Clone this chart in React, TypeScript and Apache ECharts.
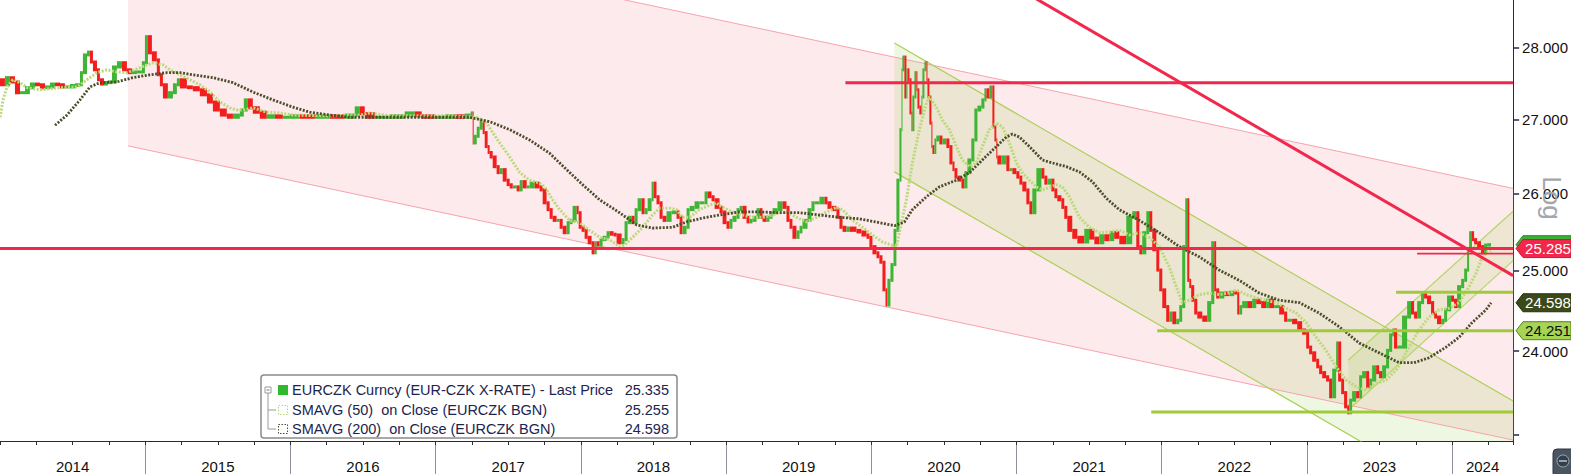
import React, { useEffect, useRef } from 'react';
import * as echarts from 'echarts';

// ---------- price data (fractional year, close) ----------
const priceT = [
  2014.000, 2014.034, 2014.069, 2014.103, 2014.138, 2014.172, 2014.206, 2014.241, 2014.275, 2014.310,
  2014.344, 2014.379, 2014.413, 2014.447, 2014.482, 2014.516, 2014.551, 2014.571, 2014.599, 2014.619,
  2014.640, 2014.668, 2014.688, 2014.716, 2014.743, 2014.771, 2014.805, 2014.840, 2014.874, 2014.908,
  2014.943, 2014.977, 2014.998, 2015.019, 2015.046, 2015.080, 2015.101, 2015.122, 2015.156, 2015.191,
  2015.218, 2015.239, 2015.287, 2015.328, 2015.376, 2015.425, 2015.466, 2015.514, 2015.562, 2015.604,
  2015.652, 2015.679, 2015.707, 2015.741, 2015.789, 2015.837, 2015.893, 2015.948, 2015.996, 2016.065,
  2016.168, 2016.271, 2016.374, 2016.443, 2016.478, 2016.512, 2016.581, 2016.684, 2016.787, 2016.856,
  2016.904, 2016.994, 2017.063, 2017.131, 2017.200, 2017.241, 2017.255, 2017.262, 2017.283, 2017.303,
  2017.324, 2017.338, 2017.358, 2017.372, 2017.393, 2017.420, 2017.441, 2017.462, 2017.489, 2017.510,
  2017.531, 2017.558, 2017.579, 2017.599, 2017.627, 2017.647, 2017.682, 2017.716, 2017.737, 2017.764,
  2017.785, 2017.806, 2017.833, 2017.854, 2017.875, 2017.902, 2017.923, 2017.943, 2017.971, 2017.985,
  2018.005, 2018.026, 2018.047, 2018.074, 2018.095, 2018.109, 2018.129, 2018.150, 2018.177, 2018.198,
  2018.226, 2018.246, 2018.281, 2018.301, 2018.322, 2018.349, 2018.370, 2018.391, 2018.418, 2018.439,
  2018.460, 2018.487, 2018.501, 2018.521, 2018.542, 2018.563, 2018.590, 2018.625, 2018.659, 2018.680,
  2018.700, 2018.728, 2018.749, 2018.783, 2018.817, 2018.852, 2018.872, 2018.900, 2018.921, 2018.955,
  2018.976, 2019.003, 2019.024, 2019.044, 2019.072, 2019.093, 2019.113, 2019.141, 2019.162, 2019.182,
  2019.210, 2019.230, 2019.251, 2019.279, 2019.299, 2019.320, 2019.354, 2019.389, 2019.416, 2019.437,
  2019.457, 2019.485, 2019.506, 2019.526, 2019.561, 2019.588, 2019.609, 2019.643, 2019.678, 2019.698,
  2019.726, 2019.760, 2019.781, 2019.802, 2019.829, 2019.850, 2019.898, 2019.932, 2019.967, 2019.987,
  2020.008, 2020.036, 2020.056, 2020.077, 2020.098, 2020.111, 2020.132, 2020.153, 2020.173, 2020.194,
  2020.208, 2020.214, 2020.228, 2020.242, 2020.249, 2020.263, 2020.277, 2020.283, 2020.297, 2020.311,
  2020.318, 2020.331, 2020.345, 2020.352, 2020.366, 2020.380, 2020.387, 2020.400, 2020.414, 2020.421,
  2020.435, 2020.448, 2020.469, 2020.490, 2020.517, 2020.538, 2020.559, 2020.573, 2020.593, 2020.621,
  2020.641, 2020.662, 2020.689, 2020.710, 2020.731, 2020.758, 2020.779, 2020.793, 2020.813, 2020.834,
  2020.848, 2020.861, 2020.868, 2020.896, 2020.930, 2020.951, 2020.972, 2020.999, 2021.020, 2021.040,
  2021.068, 2021.089, 2021.109, 2021.137, 2021.171, 2021.192, 2021.212, 2021.240, 2021.261, 2021.281,
  2021.309, 2021.329, 2021.350, 2021.384, 2021.419, 2021.467, 2021.501, 2021.536, 2021.570, 2021.605,
  2021.639, 2021.673, 2021.708, 2021.756, 2021.797, 2021.825, 2021.846, 2021.866, 2021.894, 2021.914,
  2021.935, 2021.963, 2021.983, 2022.004, 2022.031, 2022.052, 2022.073, 2022.100, 2022.121, 2022.141,
  2022.162, 2022.176, 2022.190, 2022.203, 2022.224, 2022.245, 2022.279, 2022.313, 2022.341, 2022.362,
  2022.375, 2022.396, 2022.431, 2022.465, 2022.499, 2022.520, 2022.534, 2022.554, 2022.589, 2022.623,
  2022.651, 2022.685, 2022.719, 2022.740, 2022.774, 2022.809, 2022.843, 2022.864, 2022.898, 2022.933,
  2022.967, 2022.995, 2023.015, 2023.036, 2023.064, 2023.084, 2023.105, 2023.132, 2023.153, 2023.174,
  2023.201, 2023.215, 2023.236, 2023.256, 2023.277, 2023.291, 2023.311, 2023.339, 2023.360, 2023.380,
  2023.408, 2023.428, 2023.449, 2023.477, 2023.497, 2023.518, 2023.545, 2023.566, 2023.587, 2023.600,
  2023.621, 2023.655, 2023.690, 2023.717, 2023.738, 2023.759, 2023.786, 2023.807, 2023.827, 2023.855,
  2023.876, 2023.896, 2023.924, 2023.945, 2023.965, 2023.993, 2024.013, 2024.034, 2024.062, 2024.083,
  2024.103, 2024.117, 2024.137, 2024.151, 2024.172, 2024.199, 2024.220, 2024.241, 2024.268,
];
const priceClose = [
  27.55, 27.48, 27.58, 27.52, 27.37, 27.37, 27.44, 27.49, 27.48, 27.44,
  27.45, 27.49, 27.48, 27.45, 27.45, 27.47, 27.48, 27.65, 27.90, 27.94,
  27.80, 27.69, 27.55, 27.49, 27.51, 27.52, 27.73, 27.79, 27.69, 27.65,
  27.66, 27.66, 27.79, 28.16, 27.93, 27.83, 27.62, 27.48, 27.31, 27.37,
  27.48, 27.55, 27.45, 27.44, 27.41, 27.34, 27.24, 27.13, 27.06, 27.03,
  27.06, 27.13, 27.27, 27.16, 27.10, 27.03, 27.05, 27.03, 27.03, 27.05,
  27.03, 27.05, 27.03, 27.06, 27.16, 27.08, 27.03, 27.03, 27.05, 27.09,
  27.05, 27.03, 27.03, 27.05, 27.03, 27.06, 27.09, 26.68, 26.77, 26.88,
  26.97, 26.82, 26.63, 26.55, 26.49, 26.36, 26.28, 26.32, 26.18, 26.12,
  26.09, 26.09, 26.05, 26.16, 26.09, 26.09, 26.14, 26.09, 26.05, 25.88,
  25.79, 25.69, 25.65, 25.65, 25.56, 25.49, 25.62, 25.65, 25.82, 25.75,
  25.56, 25.52, 25.43, 25.36, 25.23, 25.36, 25.33, 25.40, 25.43, 25.49,
  25.47, 25.46, 25.36, 25.40, 25.62, 25.69, 25.62, 25.79, 25.92, 25.75,
  25.79, 25.92, 26.14, 25.96, 25.88, 25.69, 25.65, 25.75, 25.76, 25.69,
  25.49, 25.56, 25.79, 25.82, 25.88, 25.88, 26.01, 25.96, 25.92, 25.82,
  25.76, 25.62, 25.56, 25.65, 25.69, 25.79, 25.82, 25.69, 25.63, 25.65,
  25.69, 25.79, 25.69, 25.65, 25.69, 25.75, 25.79, 25.88, 25.82, 25.65,
  25.56, 25.43, 25.50, 25.56, 25.65, 25.79, 25.88, 25.88, 25.94, 25.88,
  25.82, 25.79, 25.69, 25.56, 25.52, 25.55, 25.52, 25.50, 25.46, 25.43,
  25.31, 25.23, 25.18, 25.11, 24.76, 24.57, 24.88, 25.08, 25.52, 26.18,
  26.86, 27.69, 27.87, 27.31, 27.69, 27.55, 27.09, 26.86, 27.31, 27.65,
  27.41, 27.17, 27.09, 27.31, 27.69, 27.79, 27.55, 27.31, 26.95, 26.63,
  26.55, 26.72, 26.76, 26.68, 26.72, 26.63, 26.41, 26.32, 26.22, 26.18,
  26.09, 26.28, 26.45, 26.72, 27.13, 27.17, 27.27, 27.41, 27.31, 27.45,
  26.90, 26.72, 26.49, 26.41, 26.49, 26.32, 26.32, 26.28, 26.22, 26.14,
  26.05, 25.88, 25.75, 26.05, 26.32, 26.22, 26.14, 26.18, 26.05, 25.96,
  25.92, 25.82, 25.69, 25.52, 25.43, 25.37, 25.52, 25.42, 25.36, 25.45,
  25.40, 25.49, 25.43, 25.36, 25.69, 25.75, 25.31, 25.23, 25.49, 25.75,
  25.52, 25.27, 25.01, 24.76, 24.55, 24.38, 24.47, 24.35, 24.38, 24.55,
  25.31, 25.92, 24.88, 24.80, 24.63, 24.47, 24.42, 24.38, 24.60, 25.36,
  24.76, 24.67, 24.72, 24.70, 24.73, 24.72, 24.47, 24.55, 24.60, 24.55,
  24.63, 24.60, 24.55, 24.63, 24.55, 24.55, 24.47, 24.38, 24.38, 24.35,
  24.26, 24.22, 24.05, 23.98, 23.89, 23.81, 23.74, 23.69, 23.65, 23.45,
  23.77, 24.10, 23.65, 23.50, 23.33, 23.26, 23.41, 23.50, 23.45, 23.69,
  23.74, 23.57, 23.65, 23.81, 23.74, 23.69, 23.81, 24.01, 24.20, 24.26,
  24.05, 24.05, 24.42, 24.60, 24.47, 24.42, 24.60, 24.72, 24.67, 24.60,
  24.47, 24.42, 24.35, 24.38, 24.51, 24.67, 24.63, 24.55, 24.80, 24.88,
  25.01, 25.27, 25.49, 25.40, 25.36, 25.31, 25.23, 25.33, 25.335,
];

// ---------- SMAVG(50) ----------
const sma50T = [
  2014.000, 2014.021, 2014.048, 2014.089, 2014.138, 2014.186, 2014.275, 2014.413, 2014.530, 2014.599,
  2014.668, 2014.736, 2014.805, 2014.874, 2014.963, 2015.053, 2015.122, 2015.170, 2015.239, 2015.308,
  2015.376, 2015.445, 2015.514, 2015.583, 2015.631, 2015.672, 2015.741, 2015.837, 2015.927, 2016.016,
  2016.271, 2016.478, 2016.546, 2016.684, 2016.890, 2017.097, 2017.283, 2017.352, 2017.393, 2017.441,
  2017.510, 2017.579, 2017.647, 2017.716, 2017.751, 2017.806, 2017.854, 2017.923, 2017.992, 2018.060,
  2018.129, 2018.198, 2018.267, 2018.301, 2018.356, 2018.425, 2018.494, 2018.542, 2018.611, 2018.659,
  2018.700, 2018.749, 2018.817, 2018.886, 2018.934, 2018.976, 2019.044, 2019.113, 2019.182, 2019.251,
  2019.320, 2019.368, 2019.416, 2019.485, 2019.554, 2019.623, 2019.692, 2019.760, 2019.802, 2019.870,
  2019.939, 2020.008, 2020.077, 2020.173, 2020.242, 2020.283, 2020.331, 2020.380, 2020.400, 2020.448,
  2020.490, 2020.538, 2020.586, 2020.627, 2020.676, 2020.724, 2020.765, 2020.813, 2020.861, 2020.903,
  2020.951, 2020.999, 2021.040, 2021.089, 2021.137, 2021.178, 2021.226, 2021.274, 2021.316, 2021.364,
  2021.433, 2021.501, 2021.570, 2021.639, 2021.708, 2021.777, 2021.846, 2021.914, 2021.983, 2022.052,
  2022.100, 2022.141, 2022.190, 2022.258, 2022.327, 2022.396, 2022.465, 2022.513, 2022.582, 2022.651,
  2022.719, 2022.788, 2022.857, 2022.926, 2022.995, 2023.064, 2023.132, 2023.201, 2023.270, 2023.339,
  2023.408, 2023.477, 2023.545, 2023.614, 2023.635, 2023.703, 2023.772, 2023.841, 2023.910, 2023.979,
  2024.048, 2024.117, 2024.165, 2024.199, 2024.233, 2024.268,
];
const sma50 = [
  27.03, 27.27, 27.45, 27.55, 27.51, 27.44, 27.41, 27.44, 27.45, 27.55,
  27.65, 27.69, 27.66, 27.65, 27.72, 27.79, 27.76, 27.69, 27.62, 27.55,
  27.48, 27.38, 27.24, 27.16, 27.13, 27.13, 27.16, 27.10, 27.09, 27.06,
  27.05, 27.06, 27.09, 27.05, 27.05, 27.05, 27.03, 26.95, 26.82, 26.68,
  26.49, 26.28, 26.18, 26.14, 26.09, 25.92, 25.79, 25.65, 25.62, 25.52,
  25.43, 25.40, 25.31, 25.33, 25.43, 25.56, 25.72, 25.81, 25.81, 25.79,
  25.69, 25.69, 25.79, 25.85, 25.88, 25.82, 25.76, 25.72, 25.69, 25.69,
  25.72, 25.75, 25.76, 25.69, 25.63, 25.69, 25.76, 25.82, 25.79, 25.65,
  25.56, 25.46, 25.37, 25.31, 25.92, 26.41, 26.86, 27.23, 27.31, 27.17,
  26.99, 26.86, 26.63, 26.45, 26.36, 26.41, 26.63, 26.86, 26.95, 26.90,
  26.68, 26.41, 26.28, 26.18, 26.09, 26.05, 26.08, 26.12, 26.09, 25.96,
  25.69, 25.56, 25.49, 25.50, 25.52, 25.46, 25.49, 25.43, 25.31, 25.05,
  24.80, 24.60, 24.63, 24.70, 24.72, 24.70, 24.72, 24.76, 24.70, 24.66,
  24.63, 24.60, 24.53, 24.47, 24.35, 24.17, 24.01, 23.81, 23.65, 23.57,
  23.53, 23.61, 23.65, 23.77, 23.83, 24.05, 24.26, 24.42, 24.51, 24.53,
  24.60, 24.80, 24.97, 25.14, 25.23, 25.255,
];

// ---------- SMAVG(200) ----------
const sma200T = [
  2014.379, 2014.461, 2014.551, 2014.619, 2014.688, 2014.805, 2014.915, 2015.032, 2015.149, 2015.239,
  2015.328, 2015.466, 2015.604, 2015.741, 2015.879, 2016.016, 2016.133, 2016.271, 2016.409, 2016.753,
  2017.097, 2017.235, 2017.372, 2017.510, 2017.647, 2017.785, 2017.902, 2018.012, 2018.129, 2018.267,
  2018.384, 2018.494, 2018.632, 2018.728, 2018.838, 2018.955, 2019.093, 2019.230, 2019.368, 2019.506,
  2019.643, 2019.781, 2019.919, 2020.056, 2020.160, 2020.228, 2020.283, 2020.380, 2020.469, 2020.586,
  2020.676, 2020.765, 2020.861, 2020.930, 2020.972, 2021.020, 2021.089, 2021.178, 2021.247, 2021.343,
  2021.433, 2021.522, 2021.618, 2021.708, 2021.846, 2021.983, 2022.121, 2022.258, 2022.396, 2022.534,
  2022.671, 2022.809, 2022.947, 2023.084, 2023.222, 2023.360, 2023.497, 2023.635, 2023.738, 2023.841,
  2023.958, 2024.048, 2024.137, 2024.233, 2024.268,
];
const sma200 = [
  26.92, 27.06, 27.27, 27.45, 27.51, 27.52, 27.58, 27.62, 27.65, 27.65,
  27.62, 27.58, 27.51, 27.38, 27.27, 27.17, 27.10, 27.06, 27.03, 27.03,
  27.03, 27.03, 26.97, 26.86, 26.72, 26.54, 26.32, 26.12, 25.92, 25.75,
  25.59, 25.55, 25.56, 25.63, 25.68, 25.72, 25.76, 25.76, 25.75, 25.75,
  25.72, 25.69, 25.67, 25.62, 25.58, 25.63, 25.79, 25.96, 26.09, 26.18,
  26.28, 26.45, 26.63, 26.76, 26.80, 26.76, 26.63, 26.45, 26.41, 26.36,
  26.29, 26.16, 25.94, 25.79, 25.65, 25.49, 25.31, 25.18, 25.01, 24.88,
  24.72, 24.63, 24.60, 24.47, 24.30, 24.10, 23.98, 23.86, 23.86, 23.92,
  24.05, 24.17, 24.35, 24.51, 24.598,
];

// ---------- drawn annotations ([year, price] end points) ----------
const pinkChannelUpper = [[2014.881, 30.27], [2024.42, 26.07]];
const pinkChannelLower = [[2014.881, 26.64], [2024.42, 22.94]];
const oliveChannelUpper = [[2020.159, 28.07], [2024.42, 23.40]];
const oliveChannelLower = [[2020.159, 26.29], [2024.42, 21.92]];
const risingChannelUpper = [[2023.284, 23.89], [2024.42, 25.77]];
const risingChannelLower = [[2023.284, 23.29], [2024.42, 25.13]];
const redTrendLine = [[2021.020, 28.85], [2024.42, 24.94]];
const redLevels = [
  { from: 2019.822, value: 27.51 },
  { from: 2014.0, value: 25.285 },
];
const redThinLevel = { from: 2023.759, value: 25.22 };
const greenLevels = [
  { from: 2021.969, value: 24.251 },
  { from: 2021.928, value: 23.27 },
  { from: 2023.614, value: 24.73 },
];

// ---------- axes ----------
const X_MIN = 2014.0;
const X_MAX = 2024.42;
const Y_TOP = 28.69;
const Y_BOTTOM = 22.929;
const yTickValues = [23, 24, 25, 26, 27, 28];
const yLabelValues = [24, 25, 26, 27, 28];
const yearBoundaries = [2015, 2016, 2017, 2018, 2019, 2020, 2021, 2022, 2023, 2024];
const yearLabelPositions = [2014.5, 2015.5, 2016.5, 2017.5, 2018.5, 2019.5, 2020.5, 2021.5, 2022.5, 2023.5, 2024.21];

// ---------- legend / badges ----------
const legendRows = [
  { text: 'EURCZK Curncy (EUR-CZK X-RATE) - Last Price', value: '25.335' },
  { text: 'SMAVG (50)  on Close (EURCZK BGN)', value: '25.255' },
  { text: 'SMAVG (200)  on Close (EURCZK BGN)', value: '24.598' },
];
const badges = [
  { value: 25.335, label: '', bg: '#3cb034', fg: '#ffffff', stroke: '#2a8a24' },
  { value: 25.285, label: '25.285', bg: '#f2274c', fg: '#ffffff', stroke: '#c81a38' },
  { value: 24.598, label: '24.598', bg: '#3b4a18', fg: '#ffffff', stroke: '#26300e' },
  { value: 24.251, label: '24.251', bg: '#a6d455', fg: '#111111', stroke: '#5c7f20' },
];

const FONT = '"Liberation Sans", Arial, sans-serif';
const RED = '#f2274c';
const GREEN_LINE = '#9fcb3a';
const CANDLE_UP = '#3fb536';
const CANDLE_DOWN = '#f21d1d';

const L = Math.log;

function seg(points: number[][]) {
  return points.map(([t, v]) => [t, L(v)]);
}

function lineSeries(points: number[][], color: string, width: number, z: number, type: any = 'solid') {
  return {
    type: 'line',
    data: seg(points),
    symbol: 'none',
    silent: true,
    animation: false,
    z,
    lineStyle: { color, width, type, cap: 'butt' },
  };
}

export default function App() {
  const ref = useRef<HTMLDivElement>(null);

  useEffect(() => {
    document.body.style.margin = '0';
    if (!ref.current) return;
    const chart = echarts.init(ref.current, undefined, { renderer: 'svg' });

    const channels = [
      { upper: pinkChannelUpper, lower: pinkChannelLower, fill: '#fdeaec' },
      { upper: oliveChannelUpper, lower: oliveChannelLower, fill: 'rgba(147,207,67,0.16)' },
      { upper: risingChannelUpper, lower: risingChannelLower, fill: 'rgba(147,207,67,0.14)' },
    ];

    const candleData = priceT.map((t, i) => [
      t,
      L(i > 0 ? priceClose[i - 1] : priceClose[0]),
      L(priceClose[i]),
      i > 0 ? priceT[i - 1] : t - 0.02,
    ]);

    const option: any = {
      animation: false,
      backgroundColor: '#ffffff',
      grid: { left: 0, right: 57, top: 0, bottom: 33, containLabel: false },
      xAxis: [
        {
          type: 'value',
          min: X_MIN,
          max: X_MAX,
          axisLine: { show: true, lineStyle: { color: '#1f2a44', width: 1 } },
          axisTick: { show: true, customValues: yearBoundaries, length: 33, lineStyle: { color: '#8c919c', width: 1 } },
          axisLabel: {
            show: true,
            customValues: yearLabelPositions,
            formatter: (v: number) => String(Math.floor(v)),
            fontFamily: FONT,
            fontSize: 15,
            color: '#111111',
            margin: 18,
          },
          splitLine: { show: false },
        },
        {
          type: 'value',
          min: X_MIN,
          max: X_MAX,
          interval: 0.25,
          position: 'bottom',
          axisLine: { show: false },
          axisTick: { show: true, length: 4, lineStyle: { color: '#2a2f3a', width: 1 } },
          axisLabel: { show: false },
          splitLine: { show: false },
        },
      ],
      yAxis: {
        type: 'value',
        position: 'right',
        min: L(Y_BOTTOM),
        max: L(Y_TOP),
        axisLine: { show: true, lineStyle: { color: '#1f2a44', width: 1 } },
        axisTick: { show: true, customValues: yTickValues.map(L), length: 6, lineStyle: { color: '#1f2a44', width: 1.5 } },
        axisLabel: {
          show: true,
          customValues: yLabelValues.map(L),
          formatter: (v: number) => Math.exp(v).toFixed(3),
          fontFamily: FONT,
          fontSize: 15,
          color: '#111111',
          margin: 9,
        },
        splitLine: { show: false },
      },
      series: [
        {
          type: 'custom',
          coordinateSystem: 'cartesian2d',
          clip: true,
          silent: true,
          z: 1,
          data: channels.map((c) => [c.upper[0][0], L(c.upper[0][1])]),
          renderItem: (params: any, api: any) => {
            const ch = channels[params.dataIndex];
            const pts = [ch.upper[0], ch.upper[1], ch.lower[1], ch.lower[0]].map(([t, v]) => api.coord([t, L(v)]));
            return { type: 'polygon', shape: { points: pts }, style: { fill: ch.fill } };
          },
        },
        lineSeries(pinkChannelUpper, '#f7a3ad', 1, 2),
        lineSeries(pinkChannelLower, '#f7a3ad', 1, 2),
        lineSeries(oliveChannelUpper, '#aacf55', 1.2, 2),
        lineSeries(oliveChannelLower, '#aacf55', 1.2, 2),
        lineSeries(risingChannelUpper, '#b5d66a', 1.2, 2),
        lineSeries(risingChannelLower, '#b5d66a', 1.2, 2),
        {
          type: 'custom',
          coordinateSystem: 'cartesian2d',
          clip: true,
          silent: true,
          z: 3,
          data: candleData,
          renderItem: (params: any, api: any) => {
            const t = api.value(0);
            const o = api.value(1);
            const c = api.value(2);
            const tp = api.value(3);
            const a = api.coord([tp, o]);
            const b = api.coord([t, c]);
            const top = Math.min(a[1], b[1]) - 1.5;
            const bot = Math.max(a[1], b[1]) + 1.5;
            return {
              type: 'rect',
              shape: { x: a[0], y: top, width: Math.max(1, b[0] - a[0]), height: bot - top },
              style: { fill: c >= o ? CANDLE_UP : CANDLE_DOWN },
            };
          },
        },
        lineSeries(sma50T.map((t, i) => [t, sma50[i]]), '#bcd97a', 3, 4, [2, 1.5]),
        lineSeries(sma200T.map((t, i) => [t, sma200[i]]), '#4b4d2a', 2.8, 4, [2, 1.5]),
        lineSeries(redTrendLine, RED, 3, 5),
        ...redLevels.map((r) => lineSeries([[r.from, r.value], [X_MAX, r.value]], RED, 3, 5)),
        lineSeries([[redThinLevel.from, redThinLevel.value], [X_MAX, redThinLevel.value]], RED, 1.6, 5),
        ...greenLevels.map((g) => lineSeries([[g.from, g.value], [X_MAX, g.value]], GREEN_LINE, 3, 5)),
      ],
    };

    chart.setOption(option);

    // ---- overlay graphics (badges, legend, Log label) ----
    const gx0 = 1516;
    const gx1 = 1571;
    const badgeEls: any[] = [];
    badges.forEach((b) => {
      const y = chart.convertToPixel({ yAxisIndex: 0 }, L(b.value)) as number;
      badgeEls.push({
        type: 'polygon',
        shape: { points: [[gx0, y], [gx0 + 7, y - 9], [gx1, y - 9], [gx1, y + 9], [gx0 + 7, y + 9]] },
        style: { fill: b.bg, stroke: b.stroke, lineWidth: 1 },
        z: 100,
      });
      if (b.label) {
        badgeEls.push({
          type: 'text',
          x: (gx0 + 7 + gx1) / 2 + 1,
          y,
          style: {
            text: b.label, fill: b.fg, font: `15px ${FONT}`,
            textAlign: 'center', align: 'center', textVerticalAlign: 'middle', verticalAlign: 'middle',
          },
          z: 101,
        });
      }
    });

    const lx = 261, ly = 375, lw = 416, lh = 63;
    const rowY = [390, 410, 429];
    const legendEls: any[] = [
      { type: 'rect', shape: { x: lx, y: ly, width: lw, height: lh, r: 3 }, style: { fill: '#ffffff', stroke: '#8a8a8a', lineWidth: 1.5 }, z: 100 },
      { type: 'rect', shape: { x: 265, y: rowY[0] - 3, width: 6, height: 6 }, style: { fill: '#fff', stroke: '#9a9a9a', lineWidth: 1 }, z: 101 },
      { type: 'line', shape: { x1: 266.5, y1: rowY[0], x2: 269.5, y2: rowY[0] }, style: { stroke: '#777', lineWidth: 1 }, z: 101 },
      { type: 'line', shape: { x1: 268, y1: rowY[0] + 3, x2: 268, y2: rowY[2] }, style: { stroke: '#9a9a9a', lineWidth: 1 }, z: 101 },
      { type: 'line', shape: { x1: 268, y1: rowY[1], x2: 276, y2: rowY[1] }, style: { stroke: '#9a9a9a', lineWidth: 1 }, z: 101 },
      { type: 'line', shape: { x1: 268, y1: rowY[2], x2: 276, y2: rowY[2] }, style: { stroke: '#9a9a9a', lineWidth: 1 }, z: 101 },
      { type: 'rect', shape: { x: 278, y: rowY[0] - 5, width: 10, height: 10 }, style: { fill: '#2dbb2d' }, z: 101 },
      { type: 'rect', shape: { x: 278.5, y: rowY[1] - 4.5, width: 9, height: 9 }, style: { fill: '#fff', stroke: '#bcd97a', lineWidth: 1, lineDash: [1.5, 1.5] }, z: 101 },
      { type: 'rect', shape: { x: 278.5, y: rowY[2] - 4.5, width: 9, height: 9 }, style: { fill: '#fff', stroke: '#4b4d2a', lineWidth: 1, lineDash: [1.5, 1.5] }, z: 101 },
    ];
    legendRows.forEach((r, i) => {
      legendEls.push({
        type: 'text', x: 292, y: rowY[i],
        style: { text: r.text, fill: '#1b2550', font: `14.5px ${FONT}`, textAlign: 'left', align: 'left', textVerticalAlign: 'middle', verticalAlign: 'middle' },
        z: 102,
      });
      legendEls.push({
        type: 'text', x: 669, y: rowY[i],
        style: { text: r.value, fill: '#1b2550', font: `14.5px ${FONT}`, textAlign: 'right', align: 'right', textVerticalAlign: 'middle', verticalAlign: 'middle' },
        z: 102,
      });
    });

    const otherEls: any[] = [
      {
        type: 'text', x: 1552, y: 198, rotation: -Math.PI / 2,
        style: { text: 'Log', fill: '#a3a6aa', font: `26px ${FONT}`, textAlign: 'center', align: 'center', textVerticalAlign: 'middle', verticalAlign: 'middle' },
        z: 90,
      },
      { type: 'rect', shape: { x: 1553, y: 449, width: 22, height: 28, r: 4 }, style: { fill: '#4a5561', stroke: '#2e3742', lineWidth: 1 }, z: 90 },
      { type: 'circle', shape: { cx: 1563, cy: 461, r: 6 }, style: { fill: '#33404c', stroke: '#9aa8b6', lineWidth: 1 }, z: 91 },
      { type: 'line', shape: { x1: 1559, y1: 461, x2: 1567, y2: 461 }, style: { stroke: '#dfe6ee', lineWidth: 1.2 }, z: 92 },
    ];

    chart.setOption({ graphic: [...badgeEls, ...legendEls, ...otherEls] });

    return () => chart.dispose();
  }, []);

  return <div ref={ref} style={{ width: 1571, height: 474 }} />;
}
